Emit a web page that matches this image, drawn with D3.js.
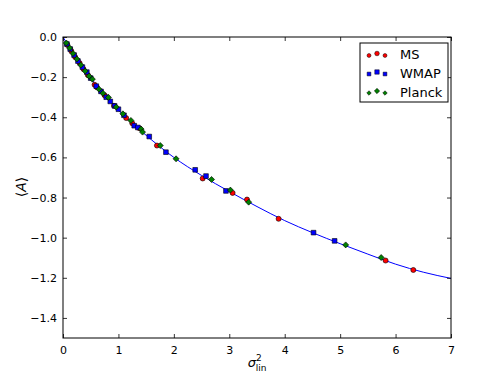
<!DOCTYPE html>
<html><head><meta charset="utf-8">
<script src="https://cdn.jsdelivr.net/npm/d3@7"></script>
<style>body{margin:0;background:#fff;} text{font-family:"DejaVu Sans",sans-serif;}</style>
</head><body><svg id="c" width="501" height="376"></svg>
<script>
const xTicks=[0,1,2,3,4,5,6,7];
const yTicks=[0,-0.2,-0.4,-0.6,-0.8,-1.0,-1.2,-1.4];
const curveX=[0,0.1,0.25,0.5,0.75,1,1.25,1.5,2,2.5,3,3.5,4,4.5,5,5.5,6,6.5,7];
const curveY=[0,-0.045,-0.105,-0.205,-0.29,-0.365,-0.43,-0.49,-0.6,-0.69,-0.77,-0.845,-0.915,-0.975,-1.03,-1.082,-1.132,-1.172,-1.203];
const msX=[0.08,0.15,0.22,0.30,0.37,0.45,0.57,0.61,0.75,0.92,1.14,1.25,1.38,1.695,2.52,3.06,3.32,3.89,5.82,6.32];
const msY=[-0.04,-0.07,-0.10,-0.13,-0.16,-0.19,-0.238,-0.25,-0.29,-0.343,-0.404,-0.43,-0.455,-0.541,-0.705,-0.777,-0.81,-0.906,-1.114,-1.161];
const wmapX=[0.07,0.13,0.2,0.27,0.35,0.43,0.5,0.6,0.685,0.78,0.853,0.93,1.0,1.1,1.285,1.35,1.556,1.857,2.385,2.58,2.94,4.52,4.90];
const wmapY=[-0.035,-0.06,-0.09,-0.12,-0.15,-0.175,-0.205,-0.245,-0.271,-0.3,-0.321,-0.343,-0.36,-0.39,-0.442,-0.451,-0.496,-0.574,-0.662,-0.693,-0.767,-0.975,-1.016];
const planckX=[0.06,0.12,0.18,0.25,0.32,0.4,0.47,0.53,0.65,0.72,0.82,0.96,1.08,1.225,1.41,1.435,1.755,2.04,2.68,3.02,3.35,5.10,5.74];
const planckY=[-0.03,-0.055,-0.082,-0.11,-0.14,-0.17,-0.195,-0.21,-0.26,-0.28,-0.301,-0.349,-0.383,-0.416,-0.459,-0.474,-0.541,-0.607,-0.71,-0.763,-0.823,-1.036,-1.099];
const seriesNames=["MS","WMAP","Planck"];
const seriesColors=["#ff0000","#0000ff","#008000"];

const svg=d3.select("#c");
const L=63,R=451,T=37,B=338;
const x=d3.scaleLinear().domain([0,7]).range([L,R]);
const y=d3.scaleLinear().domain([-1.5,0]).range([B,T]);
const fmt=d=>d3.format(".1f")(d).replace("-","\u2212");

// curve
const line=d3.line().x(d=>x(d[0])).y(d=>y(d[1])).curve(d3.curveMonotoneX);
svg.append("path").datum(curveX.map((v,i)=>[v,curveY[i]])).attr("d",line)
  .attr("fill","none").attr("stroke","#0000ff").attr("stroke-width",1);

const sym=[d3.symbolCircle,d3.symbolSquare,d3.symbolSquare];
const rot=[0,0,45];
const sizes=[20,22,18];
function drawSeries(xs,ys,k){
  svg.append("g").selectAll("path").data(xs.map((v,i)=>[v,ys[i]])).join("path")
    .attr("transform",d=>`translate(${x(d[0])},${y(d[1])}) rotate(${rot[k]})`)
    .attr("d",d3.symbol().type(sym[k]).size(sizes[k]))
    .attr("fill",seriesColors[k]).attr("stroke","#000").attr("stroke-width",0.6);
}
drawSeries(msX,msY,0);
drawSeries(wmapX,wmapY,1);
drawSeries(planckX,planckY,2);

// frame
svg.append("rect").attr("x",L).attr("y",T).attr("width",R-L).attr("height",B-T)
  .attr("fill","none").attr("stroke","#000").attr("stroke-width",1);

// axes with inward ticks
const gx=svg.append("g").attr("transform",`translate(0,${B})`)
  .call(d3.axisBottom(x).tickValues(xTicks).tickSize(-4).tickPadding(8).tickFormat(d3.format("d")));
const gxt=svg.append("g").attr("transform",`translate(0,${T})`)
  .call(d3.axisTop(x).tickValues(xTicks).tickSize(-4).tickFormat(""));
const gy=svg.append("g").attr("transform",`translate(${L},0)`)
  .call(d3.axisLeft(y).tickValues(yTicks).tickSize(-4).tickPadding(6).tickFormat(fmt));
const gyr=svg.append("g").attr("transform",`translate(${R},0)`)
  .call(d3.axisRight(y).tickValues(yTicks).tickSize(-4).tickFormat(""));
[gx,gxt,gy,gyr].forEach(g=>{g.select(".domain").remove();
  g.selectAll("line").attr("stroke","#000").attr("stroke-width",0.8);
  g.selectAll("text").attr("font-family","DejaVu Sans").attr("font-size",11).attr("fill","#000");});

// axis labels
const xl=svg.append("text").attr("x",257).attr("y",367).attr("text-anchor","middle")
  .attr("font-family","DejaVu Serif").attr("font-size",13);
xl.append("tspan").attr("font-style","italic").text("σ");
xl.append("tspan").attr("dy",-6).attr("font-size",9).text("2");
xl.append("tspan").attr("dx",-6).attr("dy",10).attr("font-size",9).text("lin");

const yl=svg.append("text").attr("transform","translate(26,187) rotate(-90)").attr("text-anchor","middle")
  .attr("font-family","DejaVu Serif").attr("font-size",14);
yl.append("tspan").text("⟨");
yl.append("tspan").attr("font-style","italic").text("A");
yl.append("tspan").text("⟩");

// legend
const lg=svg.append("g");
lg.append("rect").attr("x",360).attr("y",43).attr("width",88).attr("height",59)
  .attr("fill","#fff").attr("stroke","#000").attr("stroke-width",1);
const rowsY=[54.5,73,92];
const offs=[[369,1],[377,-1],[385,1]];
const lsz=[12,14,10];
seriesNames.forEach((n,k)=>{
  offs.forEach((o,j)=>{
    lg.append("path").attr("transform",`translate(${o[0]},${rowsY[k]+o[1]}) rotate(${rot[k]})`)
      .attr("d",d3.symbol().type(sym[k]).size(j===1?lsz[k]*1.4:lsz[k]))
      .attr("fill",seriesColors[k]).attr("stroke","#000").attr("stroke-width",0.5);
  });
  lg.append("text").attr("x",400).attr("y",rowsY[k]+4.5).attr("font-size",13).text(n);
});
</script></body></html>
